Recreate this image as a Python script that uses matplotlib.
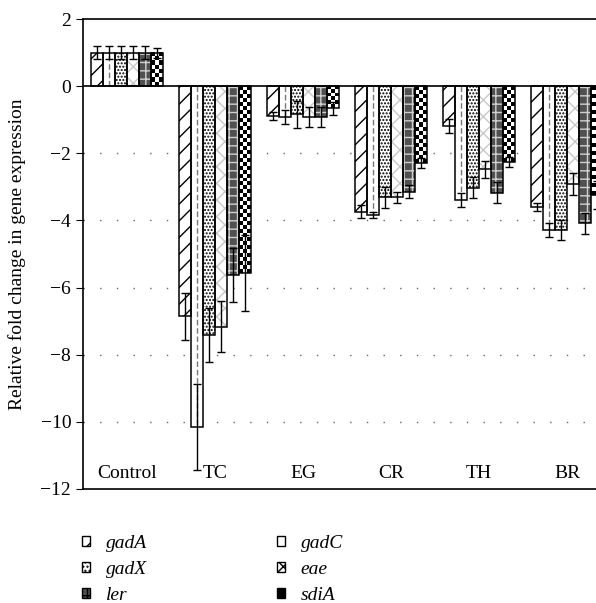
import numpy as np
import matplotlib
matplotlib.use('Agg')
import matplotlib.pyplot as plt
from matplotlib.patches import Patch

plt.rcParams['font.family'] = 'Liberation Serif'
plt.rcParams['hatch.linewidth'] = 1.0

groups = ['Control', 'TC', 'EG', 'CR', 'TH', 'BR']
genes = ['gadA', 'gadC', 'gadX', 'eae', 'ler', 'sdiA']

gadA = [1.0, -6.85, -0.89, -3.74, -1.19, -3.61]
gadC = [1.0, -10.15, -0.91, -3.84, -3.39, -4.29]
gadX = [1.0, -7.41, -0.84, -3.31, -3.03, -4.29]
eae = [1.0, -7.16, -0.91, -3.31, -2.48, -2.92]
ler = [1.0, -5.63, -0.91, -3.14, -3.17, -4.09]
sdiA = [1.0, -5.57, -0.66, -2.28, -2.25, -3.24]

gadA_err = [0.2, 0.7, 0.11, 0.2, 0.2, 0.12]
gadC_err = [0.2, 1.27, 0.21, 0.1, 0.2, 0.21]
gadX_err = [0.2, 0.8, 0.4, 0.32, 0.31, 0.3]
eae_err = [0.2, 0.77, 0.3, 0.16, 0.25, 0.32]
ler_err = [0.2, 0.81, 0.3, 0.2, 0.32, 0.3]
sdiA_err = [0.15, 1.14, 0.2, 0.15, 0.15, 0.41]

values = [gadA, gadC, gadX, eae, ler, sdiA]
errors = [gadA_err, gadC_err, gadX_err, eae_err, ler_err, sdiA_err]

fig = plt.figure(figsize=(5.96, 6.03), dpi=100)
ax = fig.add_axes([83/596, 1-489/603, 1-83/596, (489-19)/603])

x = np.arange(len(groups))
w = 0.136

for j in range(6):
    xs = x + (j - 2.5) * w
    v = values[j]
    if j == 0:  # gadA: diagonal lines
        ax.bar(xs, v, w, color='white', edgecolor='black', hatch='//', lw=0, zorder=2)
    elif j == 1:  # gadC: dashed centre line
        ax.bar(xs, v, w, color='white', lw=0, zorder=2)
        ax.vlines(xs, 0, v, colors='#777777', linestyles=(0, (4, 2)), lw=1, zorder=2.5)
    elif j == 2:  # gadX: dots
        ax.bar(xs, v, w, color='white', edgecolor='black', hatch='.....', lw=0, zorder=2)
    elif j == 3:  # eae: light crosshatch
        ax.bar(xs, v, w, color='white', edgecolor='#c8c8c8', hatch='xx', lw=0, zorder=2)
    elif j == 4:  # ler: grey with white crosses
        ax.bar(xs, v, w, color='#505050', edgecolor='#d0d0d0', hatch='++', lw=0, zorder=2)
    else:  # sdiA: checkerboard
        for xi, vi in zip(xs, v):
            nrows = max(2, int(round(abs(vi) * 33.6 / 4)))
            board = np.add.outer(np.arange(nrows), np.arange(3)) % 2
            ax.imshow(board, cmap='gray', extent=[xi - w/2, xi + w/2, min(0, vi), max(0, vi)],
                      aspect='auto', interpolation='nearest', zorder=2)
    ax.bar(xs, v, w, fill=False, edgecolor='black', lw=1.1, zorder=3)
    ax.errorbar(xs, v, yerr=errors[j], fmt='none', ecolor='black', elinewidth=1,
                capsize=3, capthick=1, zorder=4)

ax.axhline(0, color='black', lw=1.2, zorder=3)
for yg in [-2, -4, -6, -8, -10]:
    ax.axhline(yg, color='#666666', lw=1, linestyle=(0, (1, 11)), zorder=1)

for xi, g in zip(x, groups):
    ax.text(xi, -11.55, g, ha='center', va='center', fontsize=14)

ax.set_xlim(-0.5, (596 - 127) / 88)
ax.set_ylim(-12, 2)
ax.set_yticks(np.arange(-12, 3, 2))
ax.set_xticks([])
ax.tick_params(axis='y', direction='out', length=5, labelsize=14)
ax.spines['right'].set_visible(False)
for s in ['left', 'top', 'bottom']:
    ax.spines[s].set_linewidth(1.2)
ax.set_ylabel('Relative fold change in gene expression', fontsize=14)
ax.yaxis.set_label_coords(-0.111, 0.5)

styles = {
    'gadA': dict(facecolor='white', hatch='//'),
    'gadC': dict(facecolor='white', hatch='|'),
    'gadX': dict(facecolor='white', hatch='....'),
    'eae': dict(facecolor='white', hatch='xx'),
    'ler': dict(facecolor='#505050', hatch='++'),
    'sdiA': dict(facecolor='black', hatch=''),
}
order = ['gadA', 'gadX', 'ler', 'gadC', 'eae', 'sdiA']
handles = [Patch(edgecolor='black', lw=1, **styles[g]) for g in order]
labels = [g for g in order]
leg = fig.legend(handles, labels, ncol=2, loc='upper left', bbox_to_anchor=(82/596, 1 - 535/603),
                 frameon=False, prop={'style': 'italic', 'size': 14},
                 handlelength=0.42, handleheight=0.42, handletextpad=0.8,
                 columnspacing=6.7, labelspacing=0.45, borderpad=0, borderaxespad=0)

fig.savefig('out.png', dpi=100)
